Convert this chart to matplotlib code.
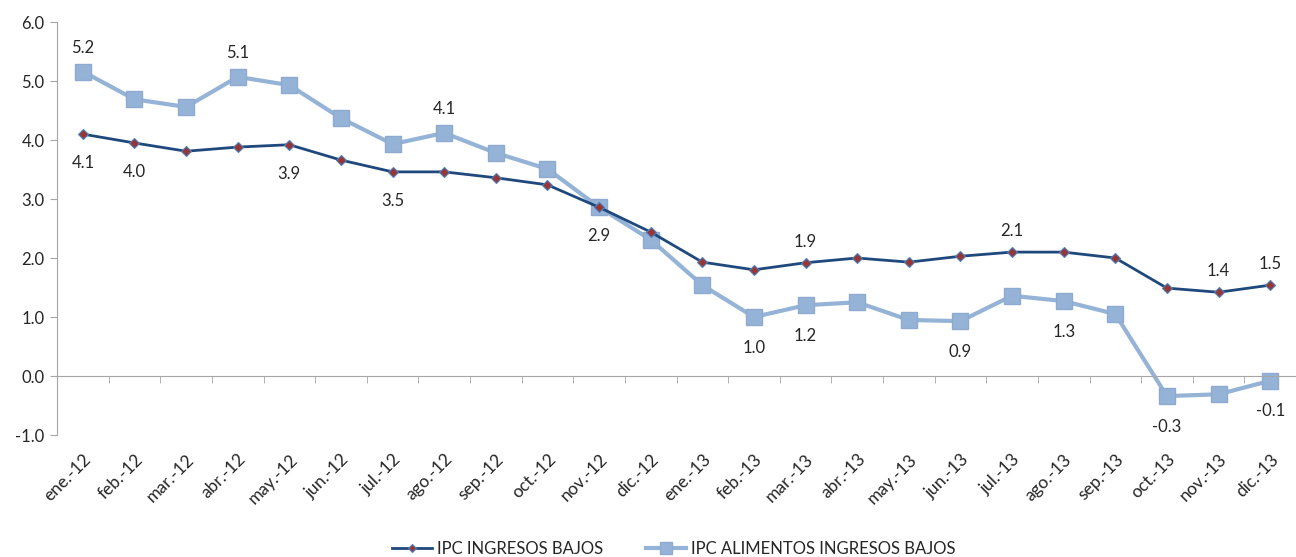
import numpy as np
import matplotlib
matplotlib.use('Agg')
import matplotlib.pyplot as plt

plt.rcParams['font.family'] = ['Lato', 'DejaVu Sans']

months = ['ene.-12', 'feb.-12', 'mar.-12', 'abr.-12', 'may.-12', 'jun.-12',
          'jul.-12', 'ago.-12', 'sep.-12', 'oct.-12', 'nov.-12', 'dic.-12',
          'ene.-13', 'feb.-13', 'mar.-13', 'abr.-13', 'may.-13', 'jun.-13',
          'jul.-13', 'ago.-13', 'sep.-13', 'oct.-13', 'nov.-13', 'dic.-13']

ipc_bajos = [4.10, 3.95, 3.81, 3.88, 3.92, 3.66, 3.46, 3.46, 3.36, 3.24, 2.86, 2.44,
             1.93, 1.80, 1.92, 2.00, 1.93, 2.03, 2.10, 2.10, 2.00, 1.49, 1.42, 1.54]

ipc_alim = [5.16, 4.69, 4.56, 5.07, 4.93, 4.37, 3.93, 4.12, 3.78, 3.51, 2.86, 2.31,
            1.54, 1.00, 1.20, 1.25, 0.95, 0.93, 1.36, 1.27, 1.05, -0.34, -0.31, -0.08]

# which points carry a data label, and whether it sits above or below
labels_bajos = {0: 'below', 1: 'below', 4: 'below', 6: 'below', 10: 'below',
                14: 'above', 18: 'above', 22: 'above', 23: 'above'}
labels_alim = {0: 'above', 3: 'above', 7: 'above', 13: 'below', 14: 'below',
               17: 'below', 19: 'below', 21: 'below', 23: 'below'}

dark = '#1F497D'
light = '#95B3D7'
txt = '#262626'

fig = plt.figure(figsize=(12.96, 5.57), dpi=100)
ax = fig.add_axes([0.044, 0.219, 0.956, 0.7415])

x = np.arange(len(months))
ax.plot(x, ipc_alim, color=light, lw=3, marker='s', ms=12,
        mfc=light, mec='#8FAAD0', label='IPC ALIMENTOS INGRESOS BAJOS', zorder=2)
ax.plot(x, ipc_bajos, color=dark, lw=2, marker='D', ms=5,
        mfc='#953735', mec='#4F81BD', mew=0.8, label='IPC INGRESOS BAJOS', zorder=3)

for i, pos in labels_bajos.items():
    dy = -21 if pos == 'below' else 15
    ax.annotate(f'{ipc_bajos[i]:.1f}', (x[i], ipc_bajos[i]), xytext=(0, dy),
                textcoords='offset points', ha='center', va='center',
                fontsize=12, color=txt)
for i, pos in labels_alim.items():
    dy = -22 if pos == 'below' else 17
    ax.annotate(f'{ipc_alim[i]:.1f}', (x[i], ipc_alim[i]), xytext=(0, dy),
                textcoords='offset points', ha='center', va='center',
                fontsize=12, color=txt)

ax.set_xlim(-0.5, 23.25)
ax.set_ylim(-1, 6)
ax.set_yticks(np.arange(-1, 6.01, 1.0))
ax.set_yticklabels([f'{v:.1f}' for v in np.arange(-1, 6.01, 1.0)], fontsize=12, color=txt)

ax.spines['top'].set_visible(False)
ax.spines['right'].set_visible(False)
ax.spines['left'].set_color('#A6A6A6')
ax.spines['bottom'].set_color('#A6A6A6')
ax.spines['bottom'].set_position(('data', 0))
ax.tick_params(axis='y', length=5, color='#A6A6A6', pad=4)

ax.set_xticks(x)
ax.set_xticklabels(months, rotation=45, ha='right', rotation_mode='anchor',
                   fontsize=12.5, color=txt)
ax.set_xticks(np.arange(-0.5, 23.6, 1), minor=True)
ax.tick_params(axis='x', which='major', length=0, pad=54)
ax.tick_params(axis='x', which='minor', length=5, color='#A6A6A6')

h, l = ax.get_legend_handles_labels()
fig.legend(h[::-1], l[::-1], loc='center', bbox_to_anchor=(0.52, 0.014), ncol=2,
           frameon=False, fontsize=12, handlelength=2.4, handletextpad=0.3,
           columnspacing=2.6, markerscale=0.75, labelcolor=txt)

fig.savefig('out.png', dpi=100)
